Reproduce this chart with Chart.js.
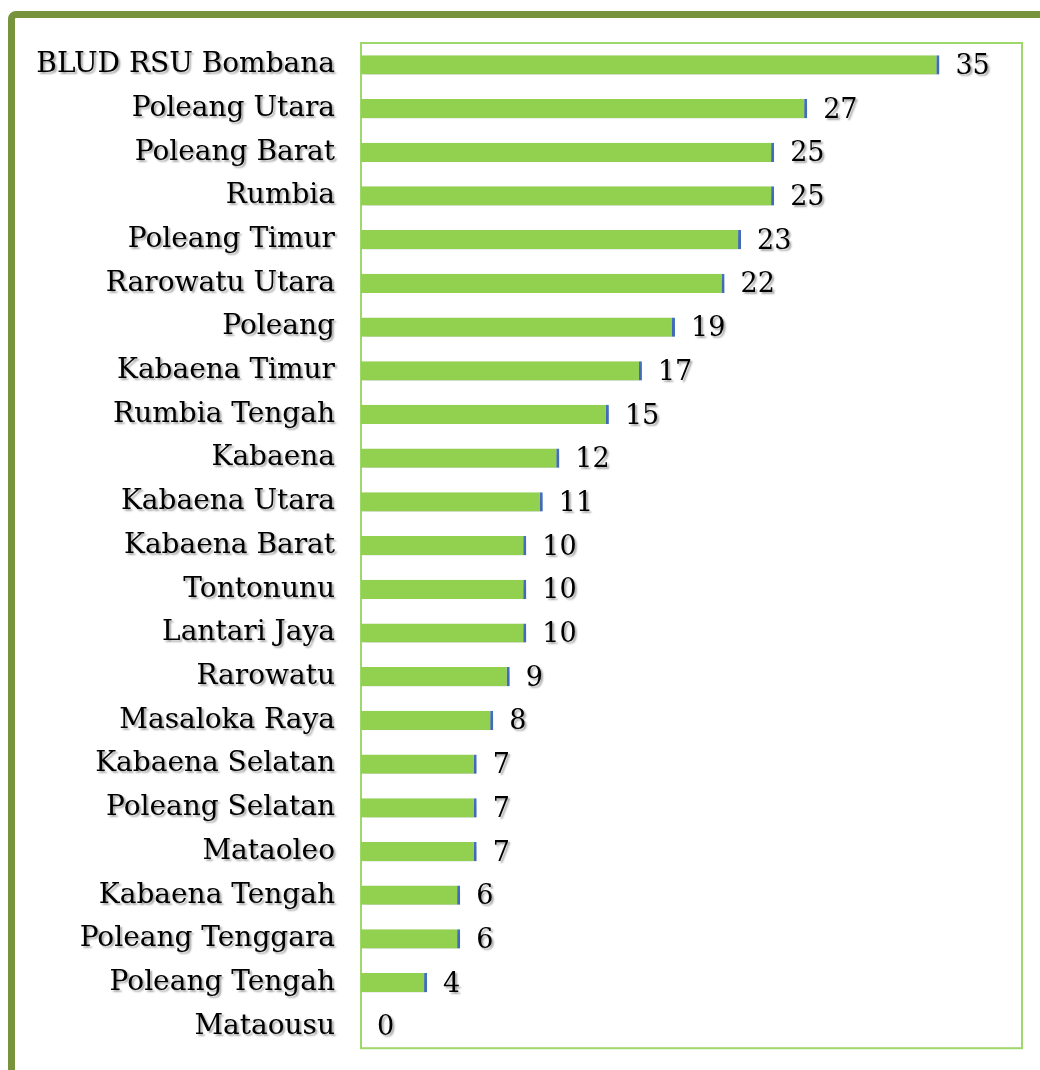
<!DOCTYPE html>
<html>
<head>
<meta charset="utf-8">
<script src="https://cdn.jsdelivr.net/npm/chart.js@4/dist/chart.umd.min.js"></script>
<style>
  html, body { margin: 0; padding: 0; background: #fff; overflow: hidden; }
  .frame {
    position: absolute; left: 8px; top: 11px;
    width: 1100px; height: 1100px;
    border: 7px solid #77933c; border-radius: 8px;
  }
  .wrap { position: absolute; left: 0; top: 0; width: 1040px; height: 1091px; }
</style>
</head>
<body>
<div class="frame"></div>
<div class="wrap"><canvas id="chart"></canvas></div>
<script>
const districts = [
  'BLUD RSU Bombana', 'Poleang Utara', 'Poleang Barat', 'Rumbia', 'Poleang Timur',
  'Rarowatu Utara', 'Poleang', 'Kabaena Timur', 'Rumbia Tengah', 'Kabaena',
  'Kabaena Utara', 'Kabaena Barat', 'Tontonunu', 'Lantari Jaya', 'Rarowatu',
  'Masaloka Raya', 'Kabaena Selatan', 'Poleang Selatan', 'Mataoleo', 'Kabaena Tengah',
  'Poleang Tenggara', 'Poleang Tengah', 'Mataousu'
];
const counts = [35, 27, 25, 25, 23, 22, 19, 17, 15, 12, 11, 10, 10, 10, 9, 8, 7, 7, 7, 6, 6, 4, 0];

const FONT = '"DejaVu Serif", serif';

// border box, shadows and value labels
const decor = {
  id: 'decor',
  beforeDraw(chart) {
    const { ctx, chartArea: a } = chart;
    ctx.save();
    ctx.strokeStyle = '#9fd86a';
    ctx.lineWidth = 2;
    ctx.strokeRect(a.left, a.top, a.right - a.left, a.bottom - a.top);
    ctx.restore();
    ctx.shadowColor = 'rgba(0,0,0,0.35)';
    ctx.shadowOffsetX = 2;
    ctx.shadowOffsetY = 2;
    ctx.shadowBlur = 2;
  },
  beforeDatasetsDraw(chart) {
    const ctx = chart.ctx;
    ctx.shadowColor = 'rgba(60,70,110,0.30)';
    ctx.shadowOffsetX = 2;
    ctx.shadowOffsetY = 5;
    ctx.shadowBlur = 7;
  },
  afterDatasetsDraw(chart) {
    const ctx = chart.ctx;
    ctx.shadowColor = 'rgba(0,0,0,0.35)';
    ctx.shadowOffsetX = 2;
    ctx.shadowOffsetY = 2;
    ctx.shadowBlur = 2;
    ctx.save();
    ctx.font = '27px ' + FONT;
    ctx.fillStyle = '#000';
    ctx.textBaseline = 'middle';
    chart.getDatasetMeta(0).data.forEach((bar, i) => {
      ctx.fillText(String(counts[i]), bar.x + 16, bar.y + 2);
    });
    ctx.restore();
  },
  afterDraw(chart) {
    const ctx = chart.ctx;
    ctx.shadowColor = 'rgba(0,0,0,0)';
    ctx.shadowOffsetX = 0;
    ctx.shadowOffsetY = 0;
    ctx.shadowBlur = 0;
  }
};

new Chart(document.getElementById('chart'), {
  type: 'bar',
  data: {
    labels: districts,
    datasets: [{
      data: counts,
      backgroundColor: '#92d050',
      borderColor: '#4472c4',
      borderWidth: { top: 0, bottom: 0, left: 0, right: 3 },
      borderSkipped: false,
      categoryPercentage: 1,
      barPercentage: 0.44
    }]
  },
  options: {
    indexAxis: 'y',
    responsive: true,
    maintainAspectRatio: false,
    animation: false,
    layout: { padding: { left: 0, right: 18, top: 43, bottom: 22 } },
    plugins: { legend: { display: false }, tooltip: { enabled: false } },
    scales: {
      x: { display: false, min: 0, max: 40 },
      y: {
        afterFit(scale) { scale.width = 361; },
        grid: { display: false, drawTicks: false },
        border: { display: false },
        ticks: {
          color: '#000',
          padding: 26,
          font: { family: FONT, size: 28 }
        }
      }
    }
  },
  plugins: [decor]
});
</script>
</body>
</html>
